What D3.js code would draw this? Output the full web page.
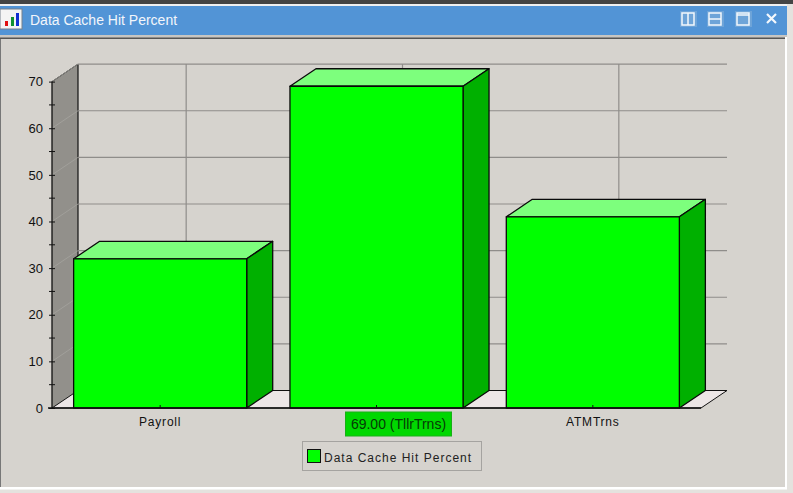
<!DOCTYPE html>
<html>
<head>
<meta charset="utf-8">
<script src="https://cdnjs.cloudflare.com/ajax/libs/d3/7.8.5/d3.min.js"></script>
<style>
  html, body { margin: 0; padding: 0; background: #d6d3ce; overflow: hidden; }
  svg { display: block; font-family: "Liberation Sans", Arial, sans-serif; }
</style>
</head>
<body>
<div id="container"></div>
<script>
const title = "Data Cache Hit Percent";
const categories = ["Payroll", "TllrTrns", "ATMTrns"];
const hitPercent = [32, 69, 41];
const yTicks = [0, 10, 20, 30, 40, 50, 60, 70];
const yMinorTicks = [5, 15, 25, 35, 45, 55, 65];
const hoverIndex = 1;

const width = 793, height = 493;
const depthX = 26, depthY = -17.5;

const x = d3.scaleBand().domain(categories).range([52, 701]).paddingInner(0.2).paddingOuter(0.1);
const y = d3.scaleLinear().domain([0, 70]).range([408, 81.6]);

const svg = d3.select("#container").append("svg")
    .attr("width", width)
    .attr("height", height);

// window frame
svg.append("rect").attr("width", width).attr("height", height).attr("fill", "#e4e2de");
svg.append("rect").attr("width", width).attr("height", 4).attr("fill", "#444444");
svg.append("rect").attr("y", 4).attr("width", 787).attr("height", 2).attr("fill", "#f0f0f0");
svg.append("rect").attr("y", 6).attr("width", 787).attr("height", 29).attr("fill", "#5294d6");
svg.append("rect").attr("y", 35).attr("width", 787).attr("height", 3).attr("fill", "#c8c6c2");
svg.append("rect").attr("y", 37.5).attr("width", 785).attr("height", 2).attr("fill", "#555555");
svg.append("rect").attr("y", 39).attr("width", 785).attr("height", 448).attr("fill", "#d6d3ce");
svg.append("rect").attr("y", 39).attr("width", 1).attr("height", 448).attr("fill", "#777777");
svg.append("rect").attr("x", 785).attr("y", 37).attr("width", 2).attr("height", 452).attr("fill", "#ffffff");
svg.append("rect").attr("y", 487).attr("width", 787).attr("height", 2.5).attr("fill", "#ffffff");

// title bar icon
const icon = svg.append("g");
icon.append("rect").attr("x", 0).attr("y", 9).attr("width", 22).attr("height", 20)
    .attr("fill", "#f4f4f4").attr("stroke", "#77808c");
[[5, 21, 5, "#e01010"], [11, 17, 9, "#109030"], [16, 13, 13, "#1030d0"]].forEach(function (b) {
  icon.append("rect").attr("x", b[0]).attr("y", b[1]).attr("width", 3).attr("height", b[2]).attr("fill", b[3]);
});

svg.append("text")
    .attr("x", 30).attr("y", 25)
    .attr("font-size", 14).attr("fill", "#f2f6fb")
    .text(title);

// title bar buttons
const btn = svg.append("g").attr("fill", "none").attr("stroke", "#f4f8fc").attr("stroke-width", 1.5);
[682, 709, 737].forEach(function (bx) {
  svg.insert("rect", "g:last-of-type").attr("x", bx - 2).attr("y", 11).attr("width", 17).attr("height", 16).attr("fill", "#6ea4d8");
  btn.append("rect").attr("x", bx).attr("y", 13).attr("width", 12).attr("height", 12);
});
btn.append("line").attr("x1", 688).attr("x2", 688).attr("y1", 13).attr("y2", 25);
btn.append("line").attr("x1", 709).attr("x2", 721).attr("y1", 19).attr("y2", 19);
btn.append("line").attr("x1", 737).attr("x2", 749).attr("y1", 15).attr("y2", 15);
btn.append("path").attr("d", "M767,14L776,23M776,14L767,23").attr("stroke-width", 2.2);

const floorLeft = x.range()[0], floorRight = x.range()[1];

// left wall
svg.append("path")
    .attr("d", d3.line()([[floorLeft, y(0)], [floorLeft + depthX, y(0) + depthY], [floorLeft + depthX, y(70) + depthY], [floorLeft, y(70)]]) + "Z")
    .attr("fill", "#92908b");
svg.append("line")
    .attr("x1", floorLeft + depthX).attr("x2", floorLeft + depthX)
    .attr("y1", y(0) + depthY).attr("y2", y(70) + depthY)
    .attr("stroke", "#111").attr("stroke-width", 1.2);
svg.append("line")
    .attr("x1", floorLeft).attr("x2", floorLeft + depthX)
    .attr("y1", y(70)).attr("y2", y(70) + depthY)
    .attr("stroke", "#111").attr("stroke-width", 1);

// floor
svg.append("path")
    .attr("d", d3.line()([[floorLeft, y(0)], [floorRight, y(0)], [floorRight + depthX, y(0) + depthY], [floorLeft + depthX, y(0) + depthY]]) + "Z")
    .attr("fill", "#ece6e6").attr("stroke", "#111").attr("stroke-width", 1);

// grid lines
const grid = svg.append("g").attr("stroke", "#8f8d8a").attr("stroke-width", 1.2);
yTicks.slice(1).forEach(function (v) {
  grid.append("line")
      .attr("x1", floorLeft + depthX).attr("x2", floorRight + depthX)
      .attr("y1", y(v) + depthY).attr("y2", y(v) + depthY);
  grid.append("line")
      .attr("x1", floorLeft).attr("x2", floorLeft + depthX)
      .attr("y1", y(v)).attr("y2", y(v) + depthY)
      .attr("stroke", "#a5a39e").attr("stroke-width", 0.8);
});
categories.forEach(function (c) {
  const cx = x(c) + x.bandwidth() / 2 + depthX;
  grid.append("line")
      .attr("x1", cx).attr("x2", cx)
      .attr("y1", y(0) + depthY).attr("y2", y(70) + depthY);
});

// 3D bars
const bars = svg.append("g").selectAll("g")
  .data(categories.map((c, i) => ({name: c, value: hitPercent[i]})))
  .join("g")
    .attr("stroke", "#0a0a0a")
    .attr("stroke-width", 1.3)
    .attr("stroke-linejoin", "round");

bars.append("path")
    .attr("fill", "#7dff7d")
    .attr("d", function (d) {
      const l = x(d.name), r = l + x.bandwidth(), t = y(d.value);
      return d3.line()([[l, t], [l + depthX, t + depthY], [r + depthX, t + depthY], [r, t]]) + "Z";
    });
bars.append("path")
    .attr("fill", "#00b000")
    .attr("d", function (d) {
      const r = x(d.name) + x.bandwidth(), t = y(d.value);
      return d3.line()([[r, t], [r + depthX, t + depthY], [r + depthX, y(0) + depthY], [r, y(0)]]) + "Z";
    });
bars.append("rect")
    .attr("fill", "#00ff00")
    .attr("x", d => x(d.name))
    .attr("y", d => y(d.value))
    .attr("width", x.bandwidth())
    .attr("height", d => y(0) - y(d.value));

// axes
const yAxis = svg.append("g")
    .attr("transform", "translate(" + floorLeft + ",0)")
    .call(d3.axisLeft(y).tickValues(yTicks).tickSize(6).tickPadding(3));
yAxis.selectAll("text").attr("font-size", 13).attr("font-family", "Liberation Sans").attr("fill", "#111");
yAxis.selectAll(".tick line").attr("x2", -3).attr("x1", 3).attr("stroke", "#111");
yAxis.select(".domain").attr("d", "M0," + y(70) + "V" + y(0) + "H-4").attr("stroke", "#111").attr("stroke-width", 1.3);
svg.append("g").selectAll("line")
  .data(yMinorTicks)
  .join("line")
    .attr("x1", floorLeft - 3).attr("x2", floorLeft + 3)
    .attr("y1", d => y(d)).attr("y2", d => y(d))
    .attr("stroke", "#111");

const xAxis = svg.append("g")
    .attr("transform", "translate(0," + y(0) + ")")
    .call(d3.axisBottom(x).tickSize(0).tickPadding(9));
xAxis.select(".domain").attr("d", "M" + floorLeft + ",0H" + floorRight).attr("stroke", "#111").attr("stroke-width", 1.4);
xAxis.selectAll(".tick line").attr("y1", -3).attr("y2", 0).attr("stroke", "#111");
xAxis.selectAll("text")
    .attr("font-size", 12).attr("font-family", "Liberation Sans")
    .attr("letter-spacing", 0.8).attr("fill", "#111")
    .style("display", (d, i) => i === hoverIndex ? "none" : null);

// hover label on the middle bar
const hoverX = x(categories[hoverIndex]) + x.bandwidth() / 2 + 22;
svg.append("rect")
    .attr("x", hoverX - 53).attr("y", 412).attr("width", 106).attr("height", 24)
    .attr("fill", "#00d800").attr("stroke", "#18b018");
svg.append("text")
    .attr("x", hoverX).attr("y", 429)
    .attr("text-anchor", "middle").attr("font-size", 14).attr("fill", "#063a06")
    .text(hitPercent[hoverIndex].toFixed(2) + " (" + categories[hoverIndex] + ")");

// legend
const legend = svg.append("g");
legend.append("rect")
    .attr("x", 302.5).attr("y", 441.5).attr("width", 179).attr("height", 29)
    .attr("fill", "#d6d3ce").attr("stroke", "#a5a3a0");
legend.append("rect")
    .attr("x", 307.5).attr("y", 449.5).attr("width", 13).attr("height", 13)
    .attr("fill", "#00ff00").attr("stroke", "#111");
legend.append("text")
    .attr("x", 324).attr("y", 462)
    .attr("font-size", 12).attr("letter-spacing", 1).attr("fill", "#222")
    .text(title);
</script>
</body>
</html>
